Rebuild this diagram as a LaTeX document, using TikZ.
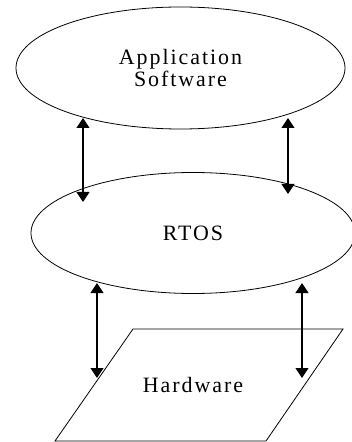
\documentclass[tikz,border=0pt]{standalone}
\usepackage{fontspec}
\setmainfont{Liberation Serif}
\usetikzlibrary{arrows.meta,shapes.geometric}

\begin{document}
\begin{tikzpicture}[x=1bp,y=-1bp,
    every node/.style={font=\fontsize{22}{19.5}\selectfont\addfontfeature{LetterSpace=9}},
    layer/.style={ellipse,draw,line width=0.8pt,align=center},
    link/.style={{Triangle[length=10bp,width=13bp]}-{Triangle[length=10bp,width=13bp]},line width=1.2pt}]
  \useasboundingbox (0,0) rectangle (351,442);

  % layers
  \node[layer,minimum width=329bp,minimum height=122bp] (app) at (180.5,68) {Application\\Software};
  \node[layer,minimum width=324bp,minimum height=121bp] (rtos) at (193,233) {RTOS};
  \draw[line width=0.8pt] (55,441) -- (266,441) -- (343,329) -- (133,329) -- cycle;
  \node (hw) at (193,385) {Hardware};

  % arrow ends
  \coordinate (a1) at (83,118);  \coordinate (r1) at (83,202);
  \coordinate (a2) at (288,118); \coordinate (r2) at (288,194);
  \coordinate (r3) at (97,283);  \coordinate (h1) at (97,378);
  \coordinate (r4) at (302,283); \coordinate (h2) at (302,378);

  \draw[link] (a1) -- (r1);
  \draw[link] (a2) -- (r2);
  \draw[link] (r3) -- (h1);
  \draw[link] (r4) -- (h2);
\end{tikzpicture}
\end{document}
